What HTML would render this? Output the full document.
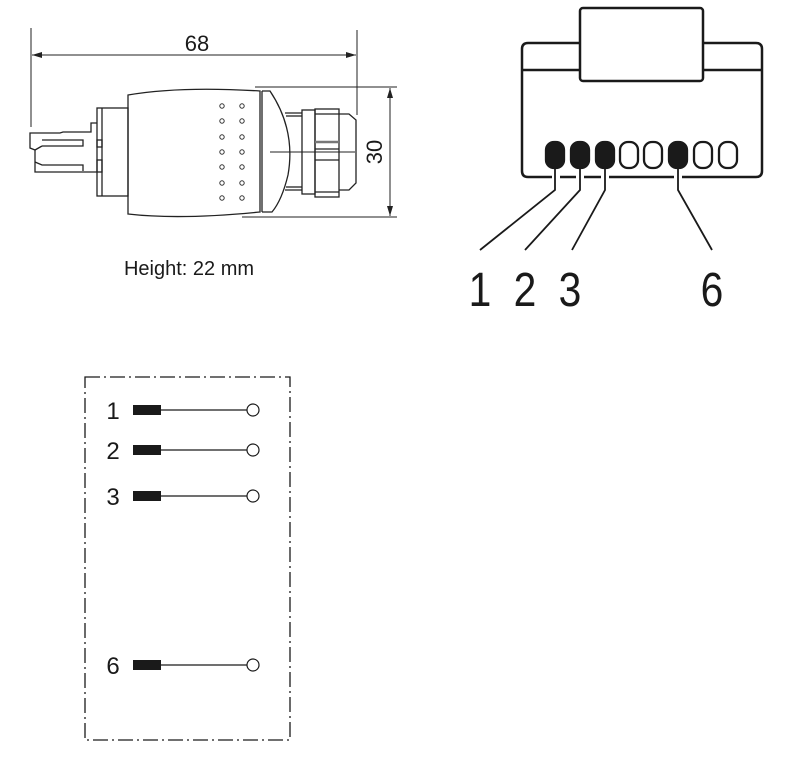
<!DOCTYPE html>
<html><head><meta charset="utf-8"><style>
html,body{margin:0;padding:0;background:#fff;}
svg{display:block;}
text{font-family:"Liberation Sans Narrow","Liberation Sans",sans-serif;fill:#1a1a1a;}
</style></head><body>
<svg width="800" height="773" viewBox="0 0 800 773" xmlns="http://www.w3.org/2000/svg">
<defs>
<marker id="ar" viewBox="0 0 10 6" refX="10" refY="3" markerWidth="10" markerHeight="6" orient="auto-start-reverse" markerUnits="userSpaceOnUse"><path d="M0,0 L10,3 L0,6 Z" fill="#222"/></marker>
</defs>
<g fill="none" stroke="#222" stroke-width="1.3">
<line x1="31" y1="28" x2="31" y2="127" stroke-width="1"/>
<line x1="357" y1="30" x2="357" y2="115" stroke-width="1"/>
<line x1="32" y1="55" x2="356" y2="55" stroke-width="1" marker-start="url(#ar)" marker-end="url(#ar)"/>
<line x1="255" y1="87" x2="397" y2="87" stroke-width="1"/>
<line x1="242" y1="217" x2="397" y2="217" stroke-width="1"/>
<line x1="390" y1="88" x2="390" y2="216" stroke-width="1" marker-start="url(#ar)" marker-end="url(#ar)"/>
<path d="M97,123 L91,123 L91,132 L63,132 L60,133 L30,133 L30,148 L35,150 L35,172 L97,172"/>
<path d="M42,140 L83,140 L83,146 L42,146"/>
<path d="M45,165 L83,165 L83,171"/>
<path d="M35,150 L42,146 M35,162 L42,165 L45,165"/>
<rect x="97" y="140" width="5" height="7"/>
<rect x="97" y="160" width="5" height="12"/>
<rect x="97" y="108" width="31" height="88"/>
<line x1="102" y1="108" x2="102" y2="196"/>
<path d="M128,95 Q180,86 260,91 L260,212 Q180,220 128,214 Z"/>
<line x1="262" y1="91" x2="262" y2="212"/>
<path d="M262,91 L270,91 Q296,130 288,175 Q282,200 272,212 L262,212"/>
<line x1="285" y1="113" x2="302" y2="113"/>
<line x1="285" y1="190" x2="302" y2="190"/>
<line x1="286" y1="116" x2="302" y2="116"/>
<line x1="286" y1="187" x2="302" y2="187"/>
<rect x="302" y="110" width="13" height="84"/>
<rect x="315" y="109" width="24" height="88"/>
<line x1="315" y1="114" x2="339" y2="114"/>
<line x1="315" y1="192" x2="339" y2="192"/>
<line x1="315" y1="142" x2="339" y2="142" stroke-width="2.5" stroke="#777"/>
<line x1="315" y1="149" x2="339" y2="149"/>
<line x1="315" y1="160" x2="339" y2="160"/>
<path d="M339,114 L349,114 L356,120 L356,183 L349,190 L339,190"/>
<line x1="270" y1="152" x2="355" y2="152" stroke-width="1"/>
</g>
<g fill="#fff" stroke="#333" stroke-width="1">
<circle cx="222" cy="106" r="2.2"/><circle cx="242" cy="106" r="2.2"/>
<circle cx="222" cy="121" r="2.2"/><circle cx="242" cy="121" r="2.2"/>
<circle cx="222" cy="137" r="2.2"/><circle cx="242" cy="137" r="2.2"/>
<circle cx="222" cy="152" r="2.2"/><circle cx="242" cy="152" r="2.2"/>
<circle cx="222" cy="167" r="2.2"/><circle cx="242" cy="167" r="2.2"/>
<circle cx="222" cy="183" r="2.2"/><circle cx="242" cy="183" r="2.2"/>
<circle cx="222" cy="198" r="2.2"/><circle cx="242" cy="198" r="2.2"/>
</g>
<text x="197" y="51" font-size="22" text-anchor="middle">68</text>
<text x="0" y="0" font-size="22" text-anchor="middle" transform="translate(382,152) rotate(-90)">30</text>
<text x="189" y="275" font-size="20" text-anchor="middle">Height: 22 mm</text>

<g fill="none" stroke="#1a1a1a" stroke-width="2.5">
<path d="M528,43 L756,43 Q762,43 762,49 L762,171 Q762,177 756,177 L528,177 Q522,177 522,171 L522,49 Q522,43 528,43 Z" fill="#fff"/>
<line x1="522" y1="70" x2="762" y2="70"/>
<rect x="580" y="8" width="123" height="73" rx="3" fill="#fff"/>
</g>
<g fill="#fff">
<rect x="552" y="174" width="8" height="6"/>
<rect x="576" y="174" width="8" height="6"/>
<rect x="601" y="174" width="8" height="6"/>
<rect x="674" y="174" width="8" height="6"/>
</g>
<g stroke="#1a1a1a" stroke-width="2.3">
<rect x="546" y="142" width="18" height="26" rx="8" fill="#1a1a1a"/>
<rect x="571" y="142" width="18" height="26" rx="8" fill="#1a1a1a"/>
<rect x="596" y="142" width="18" height="26" rx="8" fill="#1a1a1a"/>
<rect x="620" y="142" width="18" height="26" rx="8" fill="#fff"/>
<rect x="644" y="142" width="18" height="26" rx="8" fill="#fff"/>
<rect x="669" y="142" width="18" height="26" rx="8" fill="#1a1a1a"/>
<rect x="694" y="142" width="18" height="26" rx="8" fill="#fff"/>
<rect x="719" y="142" width="18" height="26" rx="8" fill="#fff"/>
</g>
<g fill="none" stroke="#1a1a1a" stroke-width="1.8">
<path d="M555,168 L555,190 L480,250"/>
<path d="M580,168 L580,190 L525,250"/>
<path d="M605,168 L605,190 L572,250"/>
<path d="M678,168 L678,190 L712,250"/>
</g>
<g font-size="48" text-anchor="middle">
<text x="0" y="0" transform="translate(480,306) scale(0.85,1)">1</text>
<text x="0" y="0" transform="translate(525,306) scale(0.85,1)">2</text>
<text x="0" y="0" transform="translate(570,306) scale(0.85,1)">3</text>
<text x="0" y="0" transform="translate(712,306) scale(0.85,1)">6</text>
</g>

<rect x="85" y="377" width="205" height="363" fill="none" stroke="#1a1a1a" stroke-width="1.3" stroke-dasharray="15,4,2,4"/>
<g fill="#1a1a1a">
<rect x="133" y="405" width="28" height="10"/>
<rect x="133" y="445" width="28" height="10"/>
<rect x="133" y="491" width="28" height="10"/>
<rect x="133" y="660" width="28" height="10"/>
</g>
<g stroke="#1a1a1a" stroke-width="1.2" fill="#fff">
<line x1="161" y1="410" x2="247" y2="410"/><circle cx="253" cy="410" r="6"/>
<line x1="161" y1="450" x2="247" y2="450"/><circle cx="253" cy="450" r="6"/>
<line x1="161" y1="496" x2="247" y2="496"/><circle cx="253" cy="496" r="6"/>
<line x1="161" y1="665" x2="247" y2="665"/><circle cx="253" cy="665" r="6"/>
</g>
<g font-size="24" text-anchor="middle">
<text x="113" y="419">1</text>
<text x="113" y="459">2</text>
<text x="113" y="505">3</text>
<text x="113" y="674">6</text>
</g>
</svg>
</body></html>
